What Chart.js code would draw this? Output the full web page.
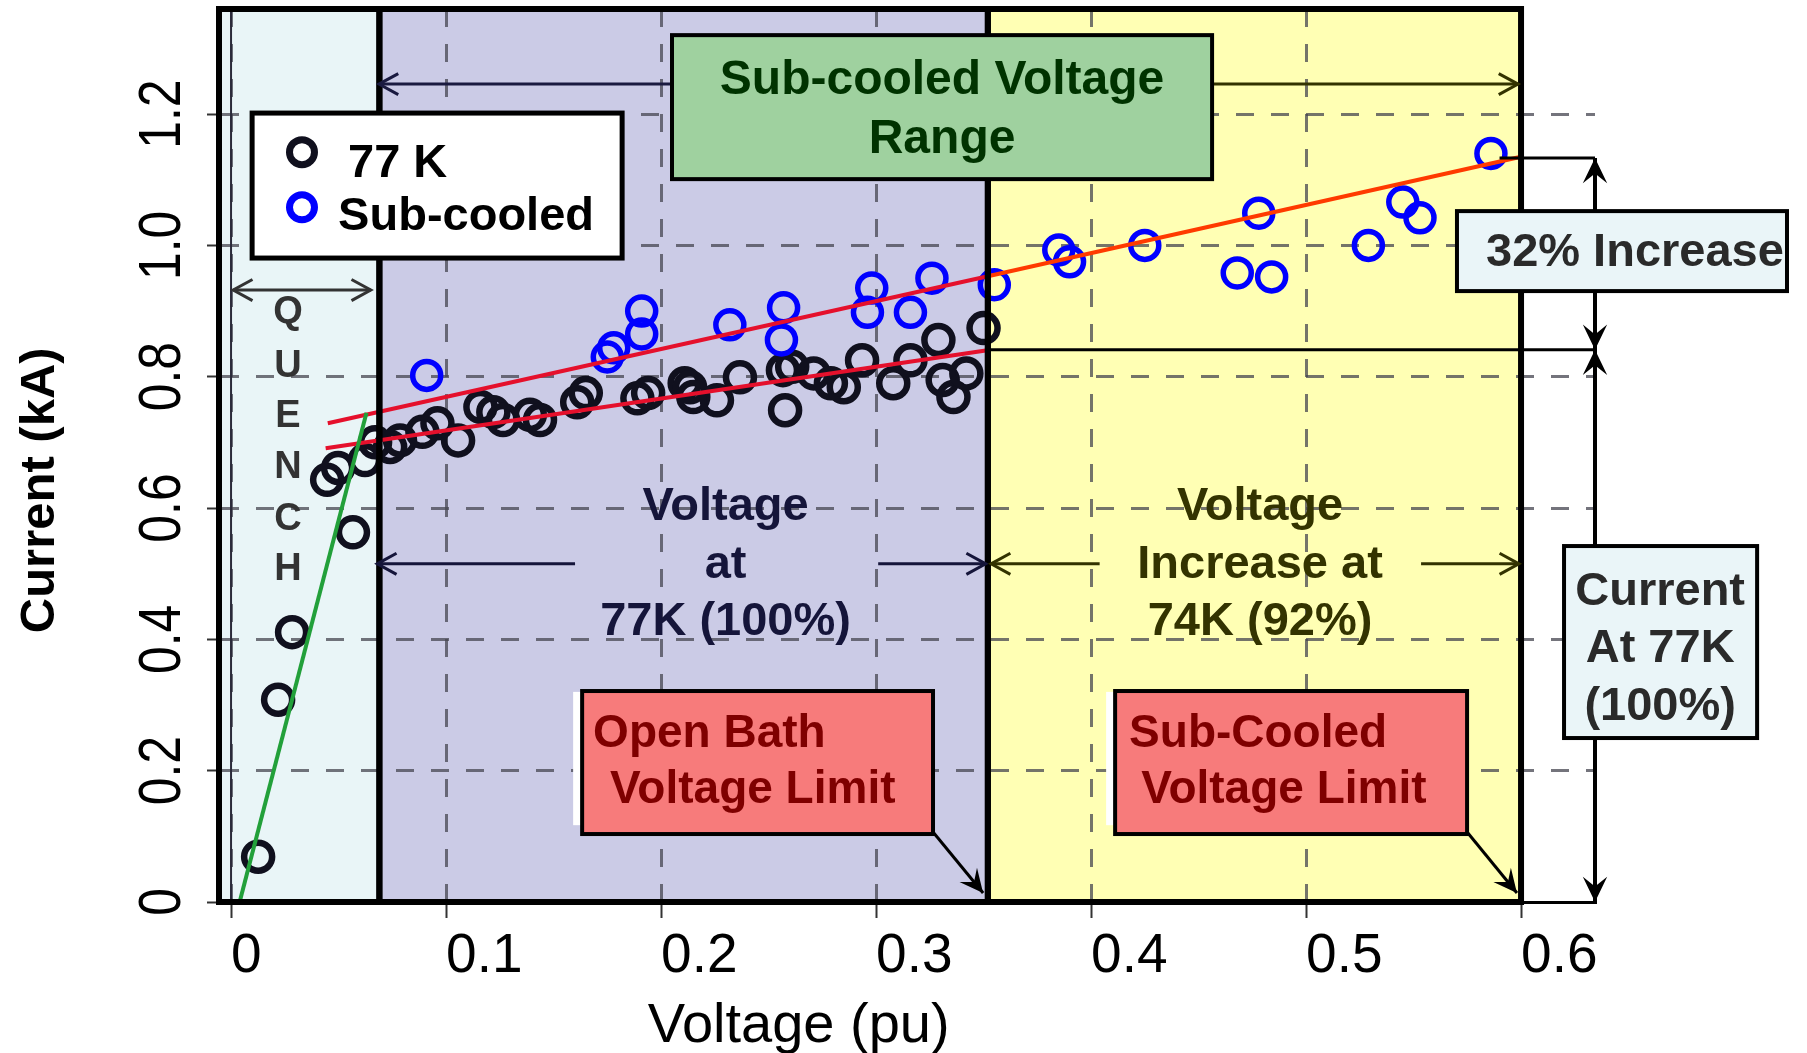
<!DOCTYPE html>
<html>
<head>
<meta charset="utf-8">
<script src="https://cdn.jsdelivr.net/npm/chart.js@4.4.1/dist/chart.umd.min.js"></script>
<style>
  body { margin: 0; background: #fff; }
  canvas { display: block; }
</style>
</head>
<body>
<canvas id="myChart" width="1807" height="1053"></canvas>
<script>
// axis ticks
const xTicks = [0, 0.1, 0.2, 0.3, 0.4, 0.5, 0.6];
const xTickLabels = ['0', '0.1', '0.2', '0.3', '0.4', '0.5', '0.6'];
const yTicks = [0, 0.2, 0.4, 0.6, 0.8, 1.0, 1.2];
const yTickLabels = ['0', '0.2', '0.4', '0.6', '0.8', '1.0', '1.2'];

// 77 K measurements (voltage pu, current kA)
const v77 = [0.0126, 0.0219, 0.0284, 0.0447, 0.0498, 0.0567, 0.0623, 0.067, 0.074, 0.0786, 0.089, 0.096, 0.1056, 0.116, 0.122, 0.1265, 0.139, 0.1437, 0.161, 0.165, 0.189, 0.194, 0.211, 0.2135, 0.215, 0.226, 0.2367, 0.2567, 0.2577, 0.261, 0.271, 0.279, 0.285, 0.2935, 0.308, 0.316, 0.329, 0.331, 0.336, 0.342, 0.350];
const i77 = [0.069, 0.308, 0.411, 0.643, 0.661, 0.563, 0.673, 0.700, 0.693, 0.703, 0.716, 0.729, 0.703, 0.754, 0.746, 0.734, 0.742, 0.734, 0.761, 0.775, 0.767, 0.775, 0.790, 0.784, 0.769, 0.764, 0.799, 0.810, 0.749, 0.815, 0.805, 0.790, 0.784, 0.825, 0.790, 0.825, 0.856, 0.795, 0.769, 0.805, 0.874];

// sub-cooled measurements
const vSub = [0.091, 0.175, 0.178, 0.191, 0.191, 0.232, 0.256, 0.257, 0.296, 0.298, 0.316, 0.326, 0.355, 0.385, 0.390, 0.425, 0.468, 0.478, 0.484, 0.529, 0.545, 0.553, 0.586];
const iSub = [0.802, 0.830, 0.844, 0.865, 0.900, 0.879, 0.856, 0.905, 0.898, 0.935, 0.898, 0.950, 0.940, 0.993, 0.975, 1.000, 0.958, 1.049, 0.952, 1.000, 1.066, 1.042, 1.140];

// fit lines
const quenchFitV = [0.004, 0.063];
const quenchFitI = [0, 0.745];
const fit77V = [0.044, 0.351];
const fit77I = [0.691, 0.840];
const fitSubV = [0.045, 0.352, 0.600];
const fitSubI = [0.729, 0.953, 1.135];

// voltage ranges (pu) and current levels (kA)
const quenchEnd = 0.069;
const openBathLimit = 0.352;
const subCooledLimit = 0.600;
const current77 = 0.841;
const currentSub = 1.133;

const toXY = (xs, ys) => xs.map((v, k) => ({ x: v, y: ys[k] }));

const FONT = '"Liberation Sans", Arial, sans-serif';

function line(ctx, x1, y1, x2, y2) {
    ctx.beginPath();
    ctx.moveTo(x1, y1);
    ctx.lineTo(x2, y2);
    ctx.stroke();
}

// open chevron arrow head at (x2, y2)
function openHead(ctx, x1, y1, x2, y2, size) {
    const a = Math.atan2(y2 - y1, x2 - x1);
    ctx.beginPath();
    ctx.moveTo(x2 - size * Math.cos(a - 0.5), y2 - size * Math.sin(a - 0.5));
    ctx.lineTo(x2, y2);
    ctx.lineTo(x2 - size * Math.cos(a + 0.5), y2 - size * Math.sin(a + 0.5));
    ctx.stroke();
}

// filled notched arrow head at (x2, y2)
function stealthHead(ctx, x1, y1, x2, y2, size) {
    const a = Math.atan2(y2 - y1, x2 - x1);
    ctx.beginPath();
    ctx.moveTo(x2, y2);
    ctx.lineTo(x2 - size * Math.cos(a - 0.45), y2 - size * Math.sin(a - 0.45));
    ctx.lineTo(x2 - size * 0.55 * Math.cos(a), y2 - size * 0.55 * Math.sin(a));
    ctx.lineTo(x2 - size * Math.cos(a + 0.45), y2 - size * Math.sin(a + 0.45));
    ctx.closePath();
    ctx.fill();
}

function arrow(ctx, x1, y1, x2, y2, color, both) {
    ctx.strokeStyle = color;
    ctx.lineWidth = 3;
    line(ctx, x1, y1, x2, y2);
    openHead(ctx, x1, y1, x2, y2, 22);
    if (both) openHead(ctx, x2, y2, x1, y1, 22);
}

function box(ctx, x1, y1, x2, y2, fill, lw) {
    ctx.fillStyle = fill;
    ctx.fillRect(x1, y1, x2 - x1, y2 - y1);
    ctx.strokeStyle = '#000';
    ctx.lineWidth = lw;
    ctx.strokeRect(x1, y1, x2 - x1, y2 - y1);
}

function text(ctx, s, x, y, font, color, align, baseline) {
    ctx.font = font;
    ctx.fillStyle = color;
    ctx.textAlign = align || 'left';
    ctx.textBaseline = baseline || 'alphabetic';
    ctx.fillText(s, x, y);
}

// the y tick labels of the original are set in a narrow face
const narrowTicks = {
    id: 'narrowTicks',
    afterLayout(chart) {
        chart.scales.y.drawLabels = function (area) {
            const ctx = this.ctx;
            for (const item of this.getLabelItems(area)) {
                const o = item.options;
                ctx.save();
                ctx.translate(o.translation[0], o.translation[1]);
                ctx.rotate(o.rotation);
                ctx.scale(0.83, 1);
                ctx.font = item.font.string;
                ctx.fillStyle = o.color;
                ctx.textAlign = o.textAlign;
                ctx.textBaseline = o.textBaseline;
                ctx.fillText(item.label, 0, item.textOffset);
                ctx.restore();
            }
        };
    }
};

const overlay = {
    id: 'overlay',
    beforeDraw(chart) {
        const { ctx, chartArea: a, scales: { x } } = chart;
        const px = v => x.getPixelForValue(v);
        ctx.save();
        ctx.fillStyle = '#fff';
        ctx.fillRect(0, 0, chart.width, chart.height);
        ctx.fillStyle = '#e9f5f7';
        ctx.fillRect(a.left, a.top, px(quenchEnd) - a.left, a.bottom - a.top);
        ctx.fillStyle = '#cbcbe6';
        ctx.fillRect(px(quenchEnd), a.top, px(openBathLimit) - px(quenchEnd), a.bottom - a.top);
        ctx.fillStyle = '#ffffb4';
        ctx.fillRect(px(openBathLimit), a.top, px(subCooledLimit) - px(openBathLimit), a.bottom - a.top);
        ctx.restore();
    },
    beforeDatasetsDraw(chart) {
        const { ctx, chartArea: a, scales: { x } } = chart;
        ctx.save();
        ctx.strokeStyle = '#2a2a3a';
        ctx.lineWidth = 2;
        line(ctx, x.getPixelForValue(0), a.top, x.getPixelForValue(0), a.bottom);
        ctx.restore();
    },
    afterDatasetsDraw(chart) {
        const { ctx, chartArea: a, scales: { x } } = chart;
        const px = v => x.getPixelForValue(v);
        ctx.save();
        ctx.strokeStyle = '#000';
        ctx.lineWidth = 6;
        ctx.strokeRect(a.left, a.top, px(quenchEnd) - a.left, a.bottom - a.top);
        ctx.strokeRect(px(quenchEnd), a.top, px(openBathLimit) - px(quenchEnd), a.bottom - a.top);
        ctx.strokeRect(px(openBathLimit), a.top, px(subCooledLimit) - px(openBathLimit), a.bottom - a.top);
        ctx.restore();
    },
    afterDraw(chart) {
        const { ctx, chartArea: a, scales: { x, y } } = chart;
        const px = v => x.getPixelForValue(v);
        const py = v => y.getPixelForValue(v);
        const bold = size => 'bold ' + size + 'px ' + FONT;
        ctx.save();

        // sub-cooled voltage range arrows + green box
        arrow(ctx, px(0.2051), py(1.2456), px(0.0688), py(1.2456), '#1a1a40');
        arrow(ctx, px(0.4563), py(1.2456), px(0.5986), py(1.2456), '#333300');
        box(ctx, px(0.2051), py(1.3202), px(0.4563), py(1.1009), '#9fd19f', 4);
        text(ctx, 'Sub-cooled Voltage', px(0.3307), py(1.2304), bold(48), '#003300', 'center');
        text(ctx, 'Range', px(0.3307), py(1.1406), bold(48), '#003300', 'center');

        // legend
        const ds = chart.data.datasets;
        box(ctx, px(0.0098), py(1.2015), px(0.1819), py(0.9807), '#fff', 5);
        [[0, 1.142, 1.104, 0.0544], [1, 1.058, 1.0233, 0.0498]].forEach(([k, my, ty, tx]) => {
            ctx.strokeStyle = ds[k].borderColor;
            ctx.lineWidth = 7;
            ctx.beginPath();
            ctx.arc(px(0.033), py(my), 12.5, 0, Math.PI * 2);
            ctx.stroke();
            text(ctx, ds[k].label, px(tx), py(ty), bold(47), '#000');
        });

        // quench
        arrow(ctx, px(0.001), py(0.932), px(0.065), py(0.932), '#333', true);
        const quenchY = [0.897, 0.816, 0.739, 0.661, 0.582, 0.507];
        'QUENCH'.split('').forEach((c, k) => text(ctx, c, px(0.0265), py(quenchY[k]), bold(38), '#333', 'center', 'middle'));

        // 77 K range text + arrows
        const rowY = [0.6015, 0.513, 0.426];
        ['Voltage', 'at', '77K (100%)'].forEach((s, k) => text(ctx, s, px(0.230), py(rowY[k]), bold(47), '#15153a', 'center', 'middle'));
        arrow(ctx, px(0.160), py(0.515), px(0.068), py(0.515), '#15153a');
        arrow(ctx, px(0.301), py(0.515), px(0.351), py(0.515), '#15153a');

        // 74 K range text + arrows
        ['Voltage', 'Increase at', '74K (92%)'].forEach((s, k) => text(ctx, s, px(0.4786), py(rowY[k]), bold(47), '#333300', 'center', 'middle'));
        arrow(ctx, px(0.404), py(0.515), px(0.3535), py(0.515), '#333300');
        arrow(ctx, px(0.5535), py(0.515), px(0.599), py(0.515), '#333300');

        // voltage limit boxes
        [[0.1633, 0.3265, 'Open Bath', 0.1684, 0.1763, 0.3498],
         [0.4112, 0.5749, 'Sub-Cooled', 0.4177, 0.4233, 0.5981]].forEach(([x1, x2, s, t1, t2, tip]) => {
            ctx.fillStyle = '#fff';
            ctx.fillRect(px(x1) - 9, py(0.32), 9, py(0.117) - py(0.32));
            box(ctx, px(x1), py(0.3213), px(x2), py(0.1035), '#f77b7b', 4);
            text(ctx, s, px(t1), py(0.236), bold(46), '#7f0000');
            text(ctx, 'Voltage Limit', px(t2), py(0.1508), bold(46), '#7f0000');
            ctx.strokeStyle = '#000';
            ctx.fillStyle = '#000';
            ctx.lineWidth = 3;
            line(ctx, px(x2), py(0.1066), px(tip), py(0.0137));
            stealthHead(ctx, px(x2), py(0.1066), px(tip), py(0.0137), 26);
        });

        // current levels at right edge
        ctx.strokeStyle = '#000';
        ctx.fillStyle = '#000';
        ctx.lineWidth = 3;
        line(ctx, px(openBathLimit), py(current77), a.right, py(current77));
        line(ctx, px(0.59), py(currentSub), a.right, py(currentSub));
        ctx.lineWidth = 4;
        line(ctx, a.right, py(currentSub), a.right, py(0));
        stealthHead(ctx, a.right, py(current77), a.right, py(currentSub), 28);
        stealthHead(ctx, a.right, py(currentSub), a.right, py(current77), 28);
        stealthHead(ctx, a.right, py(0.3), a.right, py(current77), 28);
        stealthHead(ctx, a.right, py(0.5), a.right, py(0), 28);

        box(ctx, px(0.5702), py(1.0522), px(0.7237), py(0.9304), '#eaf5f8', 4);
        text(ctx, '32% Increase', px(0.5837), py(0.9685), bold(47), '#2a2a2a');
        box(ctx, px(0.620), py(0.5421), px(0.7098), py(0.2497), '#eaf5f8', 4);
        const curY = [0.4523, 0.3655, 0.2771];
        ['Current', 'At 77K', '(100%)'].forEach((s, k) => text(ctx, s, px(0.6647), py(curY[k]), bold(47), '#2a2a2a', 'center'));

        // axis titles
        ctx.save();
        ctx.translate(40, py(0.627));
        ctx.rotate(-Math.PI / 2);
        text(ctx, 'Current (kA)', 0, 0, bold(49), '#000', 'center', 'middle');
        ctx.restore();
        text(ctx, 'Voltage (pu)', px(0.264), x.top + 140, '56px ' + FONT, '#000', 'center');

        ctx.restore();
    }
};

const gridDash = [18, 17];

const config = {
    type: 'scatter',
    data: {
        datasets: [
            {
                label: '77 K',
                data: toXY(v77, i77),
                borderColor: '#10101e',
                backgroundColor: 'transparent',
                pointRadius: 14,
                borderWidth: 6.5,
                order: 2
            },
            {
                label: 'Sub-cooled',
                data: toXY(vSub, iSub),
                borderColor: '#0000ff',
                backgroundColor: 'transparent',
                pointRadius: 14,
                borderWidth: 5.5,
                order: 1
            },
            {
                label: 'Quench fit',
                data: toXY(quenchFitV, quenchFitI),
                showLine: true,
                borderColor: '#22a03a',
                borderWidth: 4,
                pointRadius: 0,
                order: 0
            },
            {
                label: '77 K fit',
                data: toXY(fit77V, fit77I),
                showLine: true,
                borderColor: '#e5102c',
                borderWidth: 4,
                pointRadius: 0,
                order: 0
            },
            {
                label: 'Sub-cooled fit',
                data: toXY(fitSubV, fitSubI),
                showLine: true,
                borderColor: '#e5102c',
                segment: {
                    borderColor: c => c.p0.parsed.x < openBathLimit - 0.001 ? '#e5102c' : '#ff3a00'
                },
                borderWidth: 4,
                pointRadius: 0,
                order: 0
            }
        ]
    },
    options: {
        responsive: false,
        devicePixelRatio: 1,
        animation: false,
        layout: {
            autoPadding: false,
            padding: { top: 9, right: 212, left: 0, bottom: 0 }
        },
        plugins: {
            legend: { display: false },
            tooltip: { enabled: false }
        },
        scales: {
            x: {
                type: 'linear',
                min: -0.0056,
                max: 0.6344,
                afterBuildTicks: axis => { axis.ticks = xTicks.map(v => ({ value: v })); },
                afterFit: axis => { axis.height = 151; },
                grid: {
                    color: 'rgba(70, 70, 80, 0.75)',
                    lineWidth: 3,
                    tickLength: 16,
                    tickColor: '#333',
                    tickWidth: 2
                },
                border: { display: true, color: '#000', width: 3, dash: gridDash },
                ticks: {
                    align: 'start',
                    autoSkip: false,
                    maxRotation: 0,
                    padding: 6,
                    color: '#000',
                    font: { family: FONT, size: 55 },
                    callback: (v, i) => xTickLabels[i]
                }
            },
            y: {
                type: 'linear',
                min: 0,
                max: 1.36,
                afterBuildTicks: axis => { axis.ticks = yTicks.map(v => ({ value: v })); },
                afterFit: axis => {
                    axis.width = 219;
                    axis.paddingTop = 0;
                    axis.paddingBottom = 0;
                },
                grid: {
                    color: 'rgba(70, 70, 80, 0.75)',
                    lineWidth: 3,
                    tickLength: 12,
                    tickColor: '#333',
                    tickWidth: 2
                },
                border: { display: true, color: '#000', width: 3, dash: gridDash },
                ticks: {
                    autoSkip: false,
                    minRotation: 90,
                    maxRotation: 90,
                    crossAlign: 'center',
                    padding: 2,
                    color: '#000',
                    font: { family: FONT, size: 60 },
                    callback: (v, i) => yTickLabels[i]
                }
            }
        }
    },
    plugins: [narrowTicks, overlay]
};

const myChart = new Chart(document.getElementById('myChart'), config);
</script>
</body>
</html>
